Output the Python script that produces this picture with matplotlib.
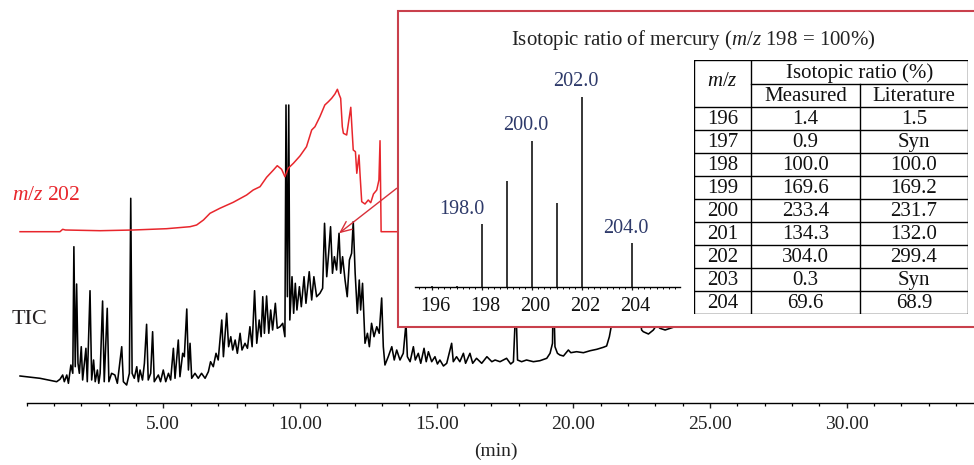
import matplotlib
matplotlib.use("Agg")
import matplotlib.pyplot as plt
from matplotlib.patches import Rectangle
from matplotlib.ticker import MultipleLocator, FixedLocator
import matplotlib.transforms as mtransforms

plt.rcParams['font.family'] = ['Liberation Serif', 'DejaVu Serif']
plt.rcParams['mathtext.fontset'] = 'custom'
plt.rcParams['mathtext.rm'] = 'Liberation Serif'
plt.rcParams['mathtext.it'] = 'Liberation Serif:italic'

# ---- Total ion chromatogram (retention time in min, abundance in arbitrary units)
tic_time = [-0.24, 0.49, 1.10, 1.22, 1.32, 1.38, 1.47, 1.53, 1.62, 1.69, 1.73, 1.78, 1.83, 1.88,
            1.93, 2.00, 2.05, 2.10, 2.17, 2.22, 2.32, 2.38, 2.45, 2.51, 2.59, 2.64, 2.69, 2.78,
            2.84, 2.95, 3.01, 3.11, 3.23, 3.32, 3.48, 3.54, 3.66, 3.76, 3.81, 3.86, 3.94, 4.03,
            4.09, 4.15, 4.24, 4.31, 4.39, 4.45, 4.54, 4.61, 4.67, 4.82, 4.90, 5.00, 5.09, 5.19,
            5.27, 5.37, 5.43, 5.55, 5.61, 5.71, 5.77, 5.86, 5.92, 5.98, 6.04, 6.16, 6.28, 6.40,
            6.53, 6.65, 6.73, 6.83, 6.93, 7.01, 7.14, 7.20, 7.32, 7.39, 7.47, 7.54, 7.63, 7.71,
            7.81, 7.88, 7.99, 8.08, 8.17, 8.25, 8.34, 8.42, 8.51, 8.58, 8.64, 8.70, 8.78, 8.86,
            8.93, 9.00, 9.10, 9.17, 9.27, 9.37, 9.45, 9.49, 9.54, 9.59, 9.63, 9.71, 9.77, 9.83,
            9.89, 9.98, 10.05, 10.15, 10.22, 10.34, 10.43, 10.51, 10.61, 10.73, 10.83, 10.90,
            10.98, 11.05, 11.12, 11.19, 11.26, 11.34, 11.43, 11.49, 11.56, 11.65, 11.73, 11.81,
            11.89, 11.95, 12.02, 12.10, 12.17, 12.22, 12.29, 12.38, 12.47, 12.54, 12.62, 12.71,
            12.81, 12.90, 12.99, 13.05, 13.11, 13.23, 13.36, 13.45, 13.54, 13.66, 13.78, 13.88,
            13.93, 14.03, 14.15, 14.22, 14.33, 14.42, 14.54, 14.62, 14.70, 14.82, 14.94, 15.03,
            15.12, 15.25, 15.37, 15.55, 15.61, 15.73, 15.85, 15.98, 16.06, 16.22, 16.32, 16.46,
            16.65, 16.84, 17.02, 17.14, 17.32, 17.56, 17.71, 17.81, 17.90, 17.96, 18.11, 18.29,
            18.54, 18.78, 19.03, 19.15, 19.24, 19.27, 19.33, 19.42, 19.51, 19.64, 19.82, 19.91,
            20.12, 20.37, 20.62, 20.86, 21.10, 21.22, 21.32, 21.41, 21.70, 22.10, 22.40, 22.50,
            22.56, 22.75, 22.93, 23.05, 23.17, 23.36, 23.54, 23.72, 23.84]
tic_abund = [27.0, 24.7, 21.3, 23.7, 28.0, 21.3, 28.0, 19.7, 38.0, 29.7, 156.3, 36.3, 119.0, 39.7,
             29.7, 56.3, 23.0, 36.3, 54.7, 21.3, 112.3, 23.0, 43.0, 21.3, 33.0, 19.7, 29.7, 102.0,
             21.3, 94.7, 21.3, 29.7, 28.0, 19.7, 56.3, 21.3, 18.0, 29.7, 204.7, 29.7, 24.7, 36.3,
             21.3, 33.0, 23.0, 39.7, 78.7, 23.0, 29.7, 71.3, 21.3, 28.0, 21.3, 33.0, 21.3, 29.7,
             23.0, 54.7, 24.7, 63.0, 26.3, 49.7, 46.3, 94.0, 33.0, 59.7, 24.7, 29.7, 24.7, 29.7,
             24.7, 31.3, 41.3, 36.3, 49.7, 43.0, 83.0, 46.3, 89.7, 56.3, 66.3, 53.0, 63.0, 49.7,
             69.7, 53.0, 59.7, 54.7, 76.3, 56.3, 112.3, 59.7, 83.0, 66.3, 106.3, 69.7, 107.0, 69.7,
             93.0, 73.0, 99.7, 74.7, 76.3, 79.7, 66.3, 298.0, 106.3, 298.0, 83.0, 126.3, 89.7, 119.7,
             93.0, 116.3, 96.3, 126.3, 99.7, 131.3, 103.0, 126.3, 106.3, 109.7, 114.7, 179.7,
             126.3, 149.7, 176.3, 129.7, 146.3, 133.0, 169.7, 129.7, 146.3, 123.0, 106.3, 143.0,
             149.7, 181.3, 129.7, 89.7, 123.0, 93.0, 119.7, 59.7, 69.7, 56.3, 79.7, 66.3,
             76.3, 69.7, 105.0, 56.3, 38.0, 46.3, 56.3, 43.0, 53.0, 43.0, 49.7, 79.7,
             46.3, 41.3, 56.3, 43.0, 49.7, 39.7, 54.7, 41.3, 51.3, 41.3, 46.3, 39.0,
             43.0, 37.0, 39.7, 59.7, 41.3, 46.3, 41.3, 49.7, 39.7, 49.7, 39.7, 44.7,
             39.7, 46.3, 41.3, 43.0, 41.3, 44.7, 39.0, 41.3, 100.0, 43.0, 41.3, 43.0,
             41.3, 42.3, 44.7, 49.7, 59.7, 120.0, 56.3, 49.7, 48.0, 47.0, 53.0, 50.3,
             51.3, 50.3, 52.3, 53.7, 55.7, 57.0, 66.3, 79.7, 115.0, 120.0, 95.0, 73.0,
             71.3, 69.0, 73.0, 78.0, 74.7, 73.0, 74.7, 76.3, 78.0]

# ---- Extracted ion chromatogram, m/z 202
hg_time = [-0.24, 1.22, 1.32, 1.42, 2.69, 3.90, 5.12, 5.98, 6.22, 6.47, 6.71, 7.07, 7.56, 8.05,
           8.29, 8.54, 8.78, 9.03, 9.17, 9.33, 9.45, 9.57, 9.76, 10.00, 10.24, 10.43, 10.55,
           10.73, 10.91, 11.04, 11.16, 11.28, 11.37, 11.44, 11.49, 11.55, 11.59, 11.71, 11.79,
           11.86, 11.90, 11.95, 12.03, 12.08, 12.16, 12.20, 12.26, 12.38, 12.50, 12.59, 12.69,
           12.81, 12.89, 12.93, 12.97, 14.50]
hg_abund = [171.3, 171.3, 173.7, 173.0, 172.3, 173.0, 174.3, 176.3, 178.0, 183.0, 189.7, 194.7,
            200.7, 208.0, 213.0, 216.3, 225.7, 233.0, 237.3, 233.7, 226.3, 234.7, 239.7, 247.0,
            256.3, 273.0, 276.3, 286.3, 298.0, 301.3, 304.7, 309.0, 313.7, 308.0, 304.7, 276.3,
            269.7, 268.0, 283.0, 295.7, 276.3, 253.0, 251.3, 229.7, 248.0, 228.0, 201.3, 199.0,
            203.0, 200.3, 209.0, 213.0, 223.0, 262.3, 171.3, 171.3]

# ---- Mercury isotopes
mz = [196, 197, 198, 199, 200, 201, 202, 203, 204]
measured = [1.4, 0.9, 100.0, 169.6, 233.4, 134.3, 304.0, 0.3, 69.6]
literature = ["1.5", "Syn", "100.0", "169.2", "231.7", "132.0", "299.4", "Syn", "68.9"]
labelled_mz = [198, 200, 202, 204]
spec_ticks = [196, 198, 200, 202, 204]

# peak highlighted by the arrow and where the arrow leaves the inset
arrow_peak = (11.43, 169.7)
arrow_from = (13.54, 214.7)

W, H = 974, 465
fig = plt.figure(figsize=(W / 100, H / 100), dpi=100)


def fx(px):
    return px / W


def fy(py):
    return (H - py) / H


# ---------------- main chromatogram ----------------
ax = fig.add_axes([fx(18.4), fy(403), 1 - fx(18.4), (403) / H])
ax.plot(tic_time, tic_abund, color='black', lw=1.15, zorder=3)
ax.plot(hg_time, hg_abund, color='#e8262c', lw=1.1, zorder=3)
ax.set_xlim(-0.3, 34.66)
ax.set_ylim(0, 403)
for s in ('top', 'left', 'right'):
    ax.spines[s].set_visible(False)
ax.spines['bottom'].set_bounds(0, 34.66)
ax.spines['bottom'].set_linewidth(1.0)
ax.set_yticks([])
ax.xaxis.set_major_locator(FixedLocator([5, 10, 15, 20, 25, 30]))
ax.xaxis.set_minor_locator(MultipleLocator(1))
ax.set_xticklabels([f"{v:.2f}" for v in [5, 10, 15, 20, 25, 30]])
ax.tick_params(axis='x', which='major', direction='out', length=3.5, width=1.0,
               labelsize=14, pad=6, colors='#222222')
ax.tick_params(axis='x', which='minor', direction='out', length=2.2, width=0.9)
ax.set_xlabel("(min)", fontsize=14, labelpad=7, color='#222222')
ax.patch.set_alpha(0)

ax.annotate("", xy=arrow_peak, xytext=arrow_from,
            arrowprops=dict(arrowstyle='->,head_length=0.8,head_width=0.35',
                            color='#d8303a', lw=1.0, shrinkA=0, shrinkB=0), zorder=4)

fig.text(fx(12), fy(200), r"$\mathit{m/z}$ 202", color='#e8262c', fontsize=15.5, va='baseline')
fig.text(fx(12), fy(324), "TIC", color='#231f20', fontsize=16, va='baseline')

# ---------------- inset frame ----------------
frame = Rectangle((fx(397.7), fy(326.7)), 0.7, (326.7 - 11) / H, transform=fig.transFigure,
                  facecolor='white', edgecolor='#c9404c', lw=1.5, zorder=1, clip_on=False)
fig.patches.append(frame)

fig.text(fx(693), fy(45), r"Isotopic ratio of mercury ($\mathit{m/z}$ 198 = 100%)",
         fontsize=15, ha='center', va='baseline', color='#222222', zorder=5)

# ---------------- mass spectrum ----------------
axs = fig.add_axes([fx(415), fy(286.7), (680 - 415) / W, (286.7 - 60) / H])
axs.set_zorder(2)
axs.patch.set_alpha(0)
axs.vlines(mz, 0, measured, color='black', lw=1.1)
axs.set_xlim(195.34, 205.94)
axs.set_ylim(0, (286.7 - 60) / 0.625)
for s in ('top', 'left', 'right'):
    axs.spines[s].set_visible(False)
axs.spines['bottom'].set_linewidth(1.0)
axs.set_yticks([])
axs.xaxis.set_major_locator(FixedLocator(spec_ticks))
axs.xaxis.set_minor_locator(MultipleLocator(0.25))
axs.tick_params(axis='x', which='major', direction='out', length=2.5, width=0.9,
                labelsize=14.5, pad=5, colors='#111111')
axs.tick_params(axis='x', which='minor', direction='out', length=1.3, width=0.7)
shift = mtransforms.ScaledTranslation(4 / 100, 0, fig.dpi_scale_trans)
for lab in axs.get_xticklabels():
    lab.set_transform(lab.get_transform() + shift)

label_dx = {198: -20, 200: -6, 202: -6, 204: -6}
for m, v in zip(mz, measured):
    if m in labelled_mz:
        axs.annotate(f"{m:.1f}", xy=(m, v), xytext=(label_dx[m] * 0.72, 4),
                     textcoords='offset points', ha='center', va='bottom',
                     fontsize=14.5, color='#2e3a6a')

# ---------------- isotope table ----------------
tx0, tx1, ty0, ty1 = 694, 968, 60, 314
axt = fig.add_axes([fx(tx0), fy(ty1), (tx1 - tx0) / W, (ty1 - ty0) / H])
axt.set_zorder(3)
axt.patch.set_alpha(0)
axt.set_xlim(0, tx1 - tx0)
axt.set_ylim(ty1 - ty0, 0)
axt.axis('off')

col_edges = [0, 57, 166, 274]
head_mid, head_bot, row_h = 24, 47, 23
nrows = len(mz)
bottom = head_bot + row_h * nrows
lw_t = 1.0
kw = dict(color='black', lw=lw_t, solid_capstyle='projecting')
axt.plot([0, 274, 274, 0, 0], [0, 0, bottom, bottom, 0], **kw)
for c in col_edges[1:3]:
    y_start = 0 if c == col_edges[1] else head_mid
    axt.plot([c, c], [y_start, bottom], **kw)
axt.plot([col_edges[1], 274], [head_mid, head_mid], **kw)
for i in range(nrows):
    y = head_bot + row_h * i
    axt.plot([0, 274], [y, y], **kw)

tkw = dict(fontsize=15, ha='center', va='center', color='#111111')
axt.text(col_edges[0] / 2 + col_edges[1] / 2, head_bot / 2 - 2, r"$\mathit{m/z}$", **tkw)
axt.text((col_edges[1] + col_edges[3]) / 2, head_mid / 2 + 1, "Isotopic ratio (%)", **tkw)
axt.text((col_edges[1] + col_edges[2]) / 2, (head_mid + head_bot) / 2 + 1, "Measured", **tkw)
axt.text((col_edges[2] + col_edges[3]) / 2, (head_mid + head_bot) / 2 + 1, "Literature", **tkw)
for i, (m, v, lit) in enumerate(zip(mz, measured, literature)):
    yc = head_bot + row_h * (i + 0.5) + 1
    axt.text((col_edges[0] + col_edges[1]) / 2, yc, str(m), **tkw)
    axt.text((col_edges[1] + col_edges[2]) / 2, yc, f"{v:.1f}", **tkw)
    axt.text((col_edges[2] + col_edges[3]) / 2, yc, lit, **tkw)

fig.savefig("out.png", dpi=100)
